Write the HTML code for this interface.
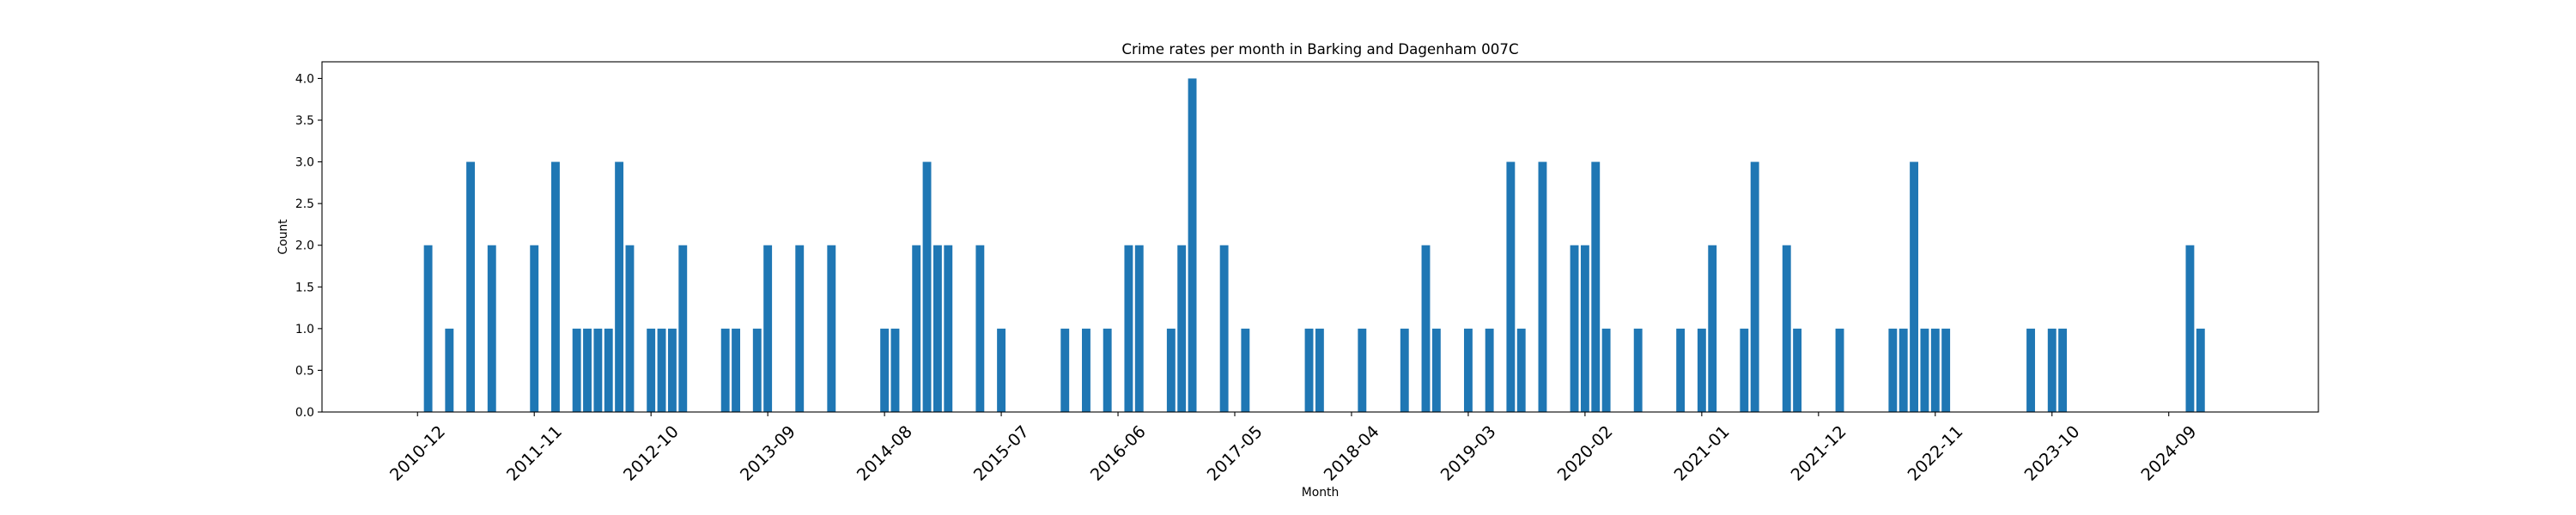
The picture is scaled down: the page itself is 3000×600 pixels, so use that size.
<!DOCTYPE html>
<html><head><meta charset="utf-8">
<style>
html,body{margin:0;padding:0;background:#fff;}
svg{display:block;font-family:"DejaVu Sans","Liberation Sans",sans-serif;}
</style></head>
<body>
<svg id="chart" width="3000" height="600" viewBox="0 0 3000 600" xmlns="http://www.w3.org/2000/svg">
<rect x="0" y="0" width="3000" height="600" fill="#fff"/>
<g id="bars"></g>
<g id="axes"></g>
<text x="1537.5" y="63" font-size="16.7" text-anchor="middle" fill="#000">Crime rates per month in Barking and Dagenham 007C</text>
<text x="1537.5" y="578" font-size="13.9" text-anchor="middle" fill="#000">Month</text>
<text x="0" y="0" font-size="13.9" text-anchor="middle" fill="#000" transform="translate(334,276) rotate(-90)">Count</text>
</svg>
<script>
// month index relative to 2010-12 (index 0)
const monthIndex = [1,3,5,7,11,13,15,16,17,18,19,20,22,23,24,25,29,30,32,33,36,39,44,45,47,48,49,50,53,55,61,63,65,67,68,71,72,73,76,78,84,85,89,93,95,96,99,101,103,104,106,109,110,111,112,115,119,121,122,125,126,129,130,134,139,140,141,142,143,144,152,154,155,167,168];
const counts     = [2,1,3,2,2,3,1,1,1,1,3,2,1,1,1,2,1,1,1,2,2,2,1,1,2,3,2,2,2,1,1,1,1,2,2,1,2,4,2,1,1,1,1,1,2,1,1,1,3,1,3,2,2,3,1,1,1,1,2,1,3,2,1,1,1,1,3,1,1,1,1,1,1,2,1];
const xTickIndex = [0,11,22,33,44,55,66,77,88,99,110,121,132,143,154,165];
const xTickLabels = ["2010-12","2011-11","2012-10","2013-09","2014-08","2015-07","2016-06","2017-05","2018-04","2019-03","2020-02","2021-01","2021-12","2022-11","2023-10","2024-09"];
const yTicks = [0,0.5,1,1.5,2,2.5,3,3.5,4];
const yTickLabels = ["0.0","0.5","1.0","1.5","2.0","2.5","3.0","3.5","4.0"];

const L=375,R=2700,T=72,B=480;
const xMin=-9.0,xMax=179.1,yMin=0,yMax=4.2;
const NS="http://www.w3.org/2000/svg";
function xs(v){return L+(v-xMin)/(xMax-xMin)*(R-L);}
function ys(v){return B-(v-yMin)/(yMax-yMin)*(B-T);}
function mk(tag,attrs,parent){const e=document.createElementNS(NS,tag);for(const k in attrs)e.setAttribute(k,attrs[k]);parent.appendChild(e);return e;}

const barsG=document.getElementById('bars');
const bw=(xs(0.8)-xs(0));
monthIndex.forEach((m,i)=>{
  const r=mk('rect',{x:xs(m)-bw/2,y:ys(counts[i]),width:bw,height:ys(0)-ys(counts[i]),fill:'#1f77b4'},barsG);
  
  
});

const ax=document.getElementById('axes');
const frame=mk('rect',{x:L,y:T,width:R-L,height:B-T,fill:'none',stroke:'#000','stroke-width':1.1},ax);



yTicks.forEach((v,i)=>{
  const y=ys(v);
  const t=mk('line',{x1:L-5,x2:L,y1:y,y2:y,stroke:'#000','stroke-width':1.1},ax);
  
  
  const tx=mk('text',{x:L-9,y:y+5,'font-size':13.9,'text-anchor':'end',fill:'#000'},ax);
  tx.textContent=yTickLabels[i];
  
  
});

xTickIndex.forEach((m,i)=>{
  const x=xs(m);
  const t=mk('line',{x1:x,x2:x,y1:B,y2:B+5,stroke:'#000','stroke-width':1.1},ax);
  
  
  const cy=528;
  const tx=mk('text',{x:x,y:cy,'font-size':19.4,'text-anchor':'middle','dominant-baseline':'central',fill:'#000',transform:'rotate(-45 '+x+' '+cy+')'},ax);
  tx.textContent=xTickLabels[i];
  
  
});
</script>
</body></html>
